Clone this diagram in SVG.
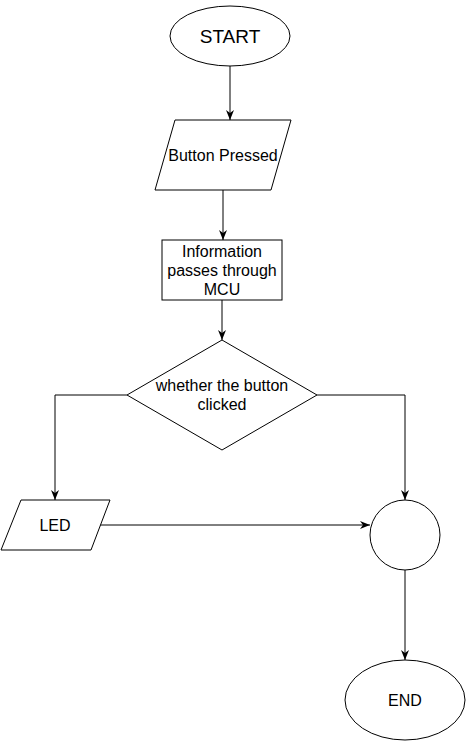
<svg xmlns="http://www.w3.org/2000/svg" width="466" height="741" viewBox="0 0 466 741">
<style>
.shape{fill:#fff;stroke:#000;stroke-width:1}
.lbl{font-family:"Liberation Sans",Arial,sans-serif;font-size:16px;fill:#000;text-anchor:middle}
.edge{fill:none;stroke:#000;stroke-width:1}
</style>
<defs>
<marker id="arr" markerUnits="userSpaceOnUse" viewBox="0 0 10 8" refX="10" refY="4" markerWidth="10" markerHeight="8" orient="auto">
<path d="M0,0 L10,4 L0,8 L3,4 z" fill="#000"/>
</marker>
</defs>
<rect width="466" height="741" fill="#fff"/>
<g id="connectors">
<path class="edge" d="M230,66 L230,120" marker-end="url(#arr)"/>
<path class="edge" d="M223,190 L223,240" marker-end="url(#arr)"/>
<path class="edge" d="M222,300 L222,340" marker-end="url(#arr)"/>
<path class="edge" d="M127,395 L55,395 L55,500" marker-end="url(#arr)"/>
<path class="edge" d="M317,395 L405,395 L405,500" marker-end="url(#arr)"/>
<path class="edge" d="M100,525 L370,525" marker-end="url(#arr)"/>
<path class="edge" d="M405,570 L405,660" marker-end="url(#arr)"/>
</g>
<g id="start">
<ellipse class="shape" cx="230" cy="36" rx="60" ry="30"/>
<text class="lbl" x="230" y="43" style="font-size:19px">START</text>
</g>
<g id="button-pressed">
<polygon class="shape" points="175,120 291,120 271,190 155,190"/>
<text class="lbl" x="223" y="161">Button Pressed</text>
</g>
<g id="mcu">
<rect class="shape" x="162" y="240" width="120" height="60"/>
<text class="lbl" x="222" y="257">Information</text>
<text class="lbl" x="222" y="276">passes through</text>
<text class="lbl" x="222" y="295">MCU</text>
</g>
<g id="decision">
<polygon class="shape" points="222,340 317,395 222,450 127,395"/>
<text class="lbl" x="222" y="391">whether the button</text>
<text class="lbl" x="222" y="410">clicked</text>
</g>
<g id="led">
<polygon class="shape" points="21,500 110,500 91,550 1,550"/>
<text class="lbl" x="55" y="531">LED</text>
</g>
<g id="junction">
<circle class="shape" cx="405" cy="535" r="35"/>
</g>
<g id="end">
<ellipse class="shape" cx="405" cy="700" rx="60" ry="40"/>
<text class="lbl" x="405" y="706">END</text>
</g>
</svg>
